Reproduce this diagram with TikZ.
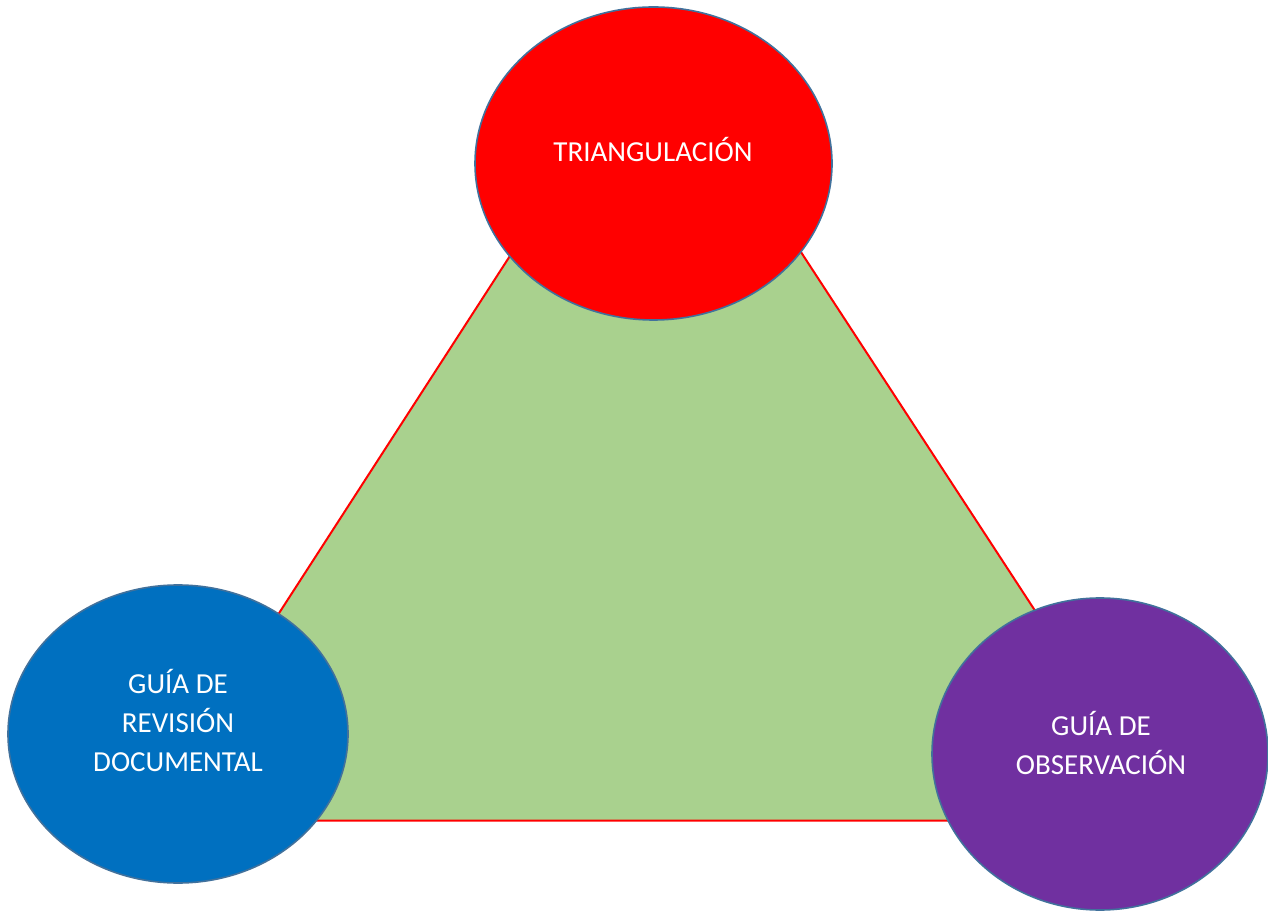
\documentclass[tikz,border=0pt]{standalone}
\usepackage{fontspec}
\setmainfont{Carlito}
\usetikzlibrary{shapes.geometric}
\definecolor{tri}{HTML}{A9D18E}
\definecolor{rojo}{HTML}{FF0000}
\definecolor{azul}{HTML}{0070C0}
\definecolor{morado}{HTML}{7030A0}
\definecolor{borde}{HTML}{41719C}
\tikzset{
  bubble/.style={ellipse, draw=borde, line width=1.6pt, inner sep=0pt},
  lbl/.style={text=white, font=\fontsize{29}{39}\selectfont, align=center, inner sep=0pt},
}
\begin{document}
\begin{tikzpicture}[x=1pt,y=1pt]
\useasboundingbox (0,0) rectangle (1268,911);
\coordinate (A) at (656,881);
\coordinate (B) at (145,90.5);
\coordinate (C) at (1172,90.5);
\filldraw[fill=tri, draw=rojo, line width=2pt, line join=miter] (A) -- (B) -- (C) -- cycle;
\node[bubble, fill=rojo, minimum width=357pt, minimum height=313pt] (tri) at (653.5,747.5) {};
\node[bubble, fill=azul, minimum width=340pt, minimum height=298pt] (doc) at (178,177) {};
\node[bubble, fill=morado, minimum width=336pt, minimum height=312pt] (obs) at (1100,157) {};
\node[lbl] (ttri) at (653,761.5) {TRIANGULACIÓN};
\node[lbl] (tdoc) at (178,190.5) {GUÍA DE\\REVISIÓN\\DOCUMENTAL};
\node[lbl] (tobs) at (1101,168.5) {GUÍA DE\\OBSERVACIÓN};
\end{tikzpicture}
\end{document}
